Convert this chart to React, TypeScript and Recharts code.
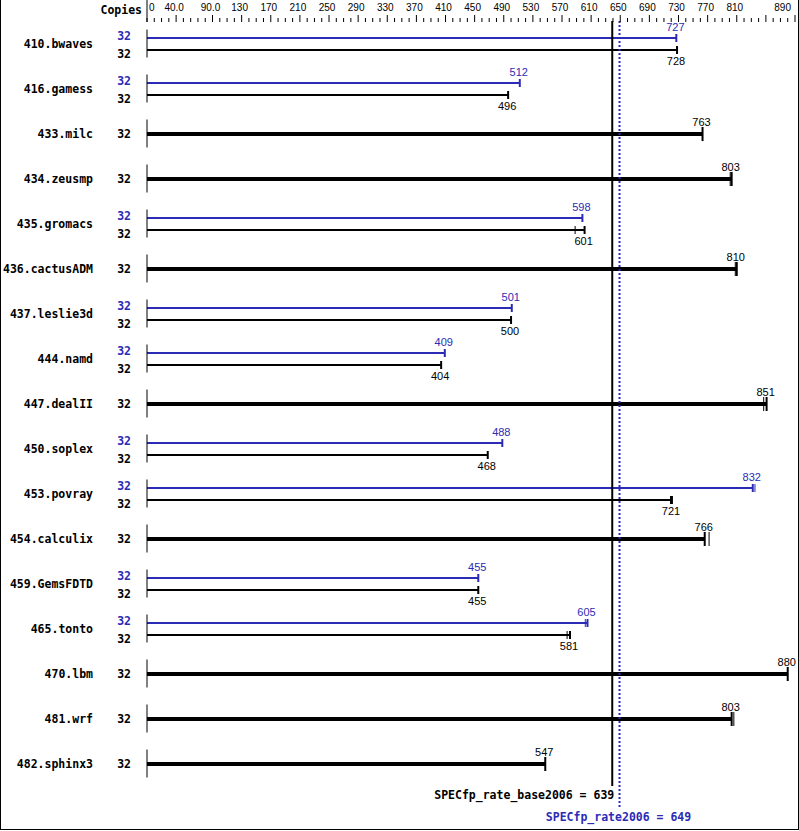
import { BarChart, Bar, XAxis, YAxis, ReferenceLine } from "recharts";

const BLUE = "#2b2bb5";
const MONO = "'DejaVu Sans Mono', monospace";
const SANS = "'Liberation Sans', Arial, sans-serif";

// benchmark rows, top to bottom
const benchmarks = [
  "410.bwaves", "416.gamess", "433.milc", "434.zeusmp", "435.gromacs", "436.cactusADM",
  "437.leslie3d", "444.namd", "447.dealII", "450.soplex", "453.povray", "454.calculix",
  "459.GemsFDTD", "465.tonto", "470.lbm", "481.wrf", "482.sphinx3",
];
const baseScores = [728, 496, 763, 803, 601, 810, 500, 404, 851, 468, 721, 766, 455, 581, 880, 803, 547];
// null = no separate peak run (base only, drawn as one thick bar)
const peakScores = [727, 512, null, null, 598, null, 501, 409, null, 488, 832, null, 455, 605, null, null, null];
// second run marks visible next to the bar ends
const baseOtherRun = [null, null, null, 801, 588, 808, null, null, 847, null, 719, 772, null, 577, null, 806, null];
const peakOtherRun = [null, null, null, null, null, null, null, null, null, null, 835, null, null, 602, null, null, null];
const baseCopies = [32, 32, 32, 32, 32, 32, 32, 32, 32, 32, 32, 32, 32, 32, 32, 32, 32];
const peakCopies = [32, 32, null, null, 32, null, 32, 32, null, 32, 32, null, 32, 32, null, null, null];

const tickLabelValues = [0, 40, 90, 130, 170, 210, 250, 290, 330, 370, 410, 450, 490, 530, 570, 610, 650, 690, 730, 770, 810, 890];
const tickLabelText = ["0", "40.0", "90.0", "130", "170", "210", "250", "290", "330", "370", "410", "450", "490", "530", "570", "610", "650", "690", "730", "770", "810", "890"];
const majorTicks = [40, 90, 130, 170, 210, 250, 290, 330, 370, 410, 450, 490, 530, 570, 610, 650, 690, 730, 770, 810, 850, 890];
const allTicks: number[] = [];
for (let v = 0; v <= 890; v += 10) allTicks.push(v);

const BASE_MEAN = 639;
const PEAK_MEAN = 649;

const data = benchmarks.map((name, i) => ({
  name,
  base: baseScores[i],
  peak: peakScores[i],
  baseAlt: baseOtherRun[i],
  peakAlt: peakOtherRun[i],
  baseCopies: baseCopies[i],
  peakCopies: peakCopies[i],
}));

function TopTick(props: any) {
  const { x, payload } = props;
  const v = payload.value;
  const li = tickLabelValues.indexOf(v);
  const major = majorTicks.includes(v);
  const last = v === 890;
  return (
    <g>
      <line x1={x} x2={x} y1={major ? 15 : 18} y2={22} stroke="#000" strokeWidth={1} />
      {li >= 0 && (
        <text
          x={v === 0 ? x + 2 : last ? x - 4 : x - 2}
          y={11}
          textAnchor={v === 0 ? "start" : last ? "end" : "middle"}
          fontFamily={SANS}
          fontSize={10}
          fill="#000"
        >
          {tickLabelText[li]}
        </text>
      )}
      {v === 0 && (
        <>
          <line x1={x} x2={x} y1={0} y2={22} stroke="#000" strokeWidth={1} />
          <text x={x - 5} y={14} textAnchor="end" fontFamily={MONO} fontWeight="bold" fontSize={11.5} fill="#000">
            Copies
          </text>
        </>
      )}
    </g>
  );
}

function RowTick(props: any) {
  const { x, y, payload } = props;
  const i = benchmarks.indexOf(payload.value);
  const single = peakScores[i] == null;
  return (
    <g>
      <line x1={x} x2={x} y1={y - 14} y2={y + 14} stroke="#000" strokeWidth={1} />
      <text x={x - 54} y={y} dy="0.35em" textAnchor="end" fontFamily={MONO} fontWeight="bold" fontSize={11.5} fill="#000">
        {payload.value}
      </text>
      {single ? (
        <text x={x - 16} y={y} dy="0.35em" textAnchor="end" fontFamily={MONO} fontWeight="bold" fontSize={11.5} fill="#000">
          {baseCopies[i]}
        </text>
      ) : (
        <>
          <text x={x - 16} y={y - 8} dy="0.35em" textAnchor="end" fontFamily={MONO} fontWeight="bold" fontSize={11.5} fill={BLUE}>
            {peakCopies[i]}
          </text>
          <text x={x - 16} y={y + 10} dy="0.35em" textAnchor="end" fontFamily={MONO} fontWeight="bold" fontSize={11.5} fill="#000">
            {baseCopies[i]}
          </text>
        </>
      )}
    </g>
  );
}

function PeakShape(props: any) {
  const { x, y, width, height, payload } = props;
  if (payload.peak == null || width == null) return <g />;
  const cy = y + height / 2;
  const xe = x + width;
  const altX = payload.peakAlt != null ? x + (width * payload.peakAlt) / payload.peak : null;
  return (
    <g>
      <line x1={x} x2={xe} y1={cy} y2={cy} stroke={BLUE} strokeWidth={2} />
      <line x1={xe} x2={xe} y1={cy - 4} y2={cy + 4} stroke={BLUE} strokeWidth={2} />
      {altX != null && <line x1={altX} x2={altX} y1={cy - 4} y2={cy + 4} stroke={BLUE} strokeWidth={1} />}
      <text x={xe - 1} y={cy - 11} dy="0.35em" textAnchor="middle" fontFamily={SANS} fontSize={11} fill={BLUE}>
        {payload.peak}
      </text>
    </g>
  );
}

function BaseShape(props: any) {
  const { x, y, width, height, payload } = props;
  if (payload.base == null || width == null) return <g />;
  const single = payload.peak == null;
  // single rows sit in the middle of the row (slot offset = (barSize + barGap) / 2)
  const cy = y + height / 2 - (single ? 6 : 0);
  const xe = x + width;
  const altX = payload.baseAlt != null ? x + (width * payload.baseAlt) / payload.base : null;
  const capH = single ? 7 : 4;
  return (
    <g>
      <line x1={x} x2={xe} y1={cy} y2={cy} stroke="#000" strokeWidth={single ? 4 : 2} />
      <line x1={xe} x2={xe} y1={cy - capH} y2={cy + capH} stroke="#000" strokeWidth={2} />
      {altX != null && <line x1={altX} x2={altX} y1={cy - capH} y2={cy + capH} stroke="#000" strokeWidth={1} />}
      <text x={xe - 1} y={single ? cy - 12 : cy + 11} dy="0.35em" textAnchor="middle" fontFamily={SANS} fontSize={11} fill="#000">
        {payload.base}
      </text>
    </g>
  );
}

function BaseMeanLine(props: any) {
  const { x1, y1, y2 } = props;
  const top = Math.min(y1, y2);
  const bottom = Math.max(y1, y2);
  return (
    <g>
      <line x1={x1} x2={x1} y1={top} y2={bottom} stroke="#000" strokeWidth={2} />
      <text x={x1 + 2} y={bottom + 9} dy="0.35em" textAnchor="end" fontFamily={MONO} fontWeight="bold" fontSize={11.5} fill="#000">
        {`SPECfp_rate_base2006 = ${BASE_MEAN}`}
      </text>
    </g>
  );
}

function PeakMeanLine(props: any) {
  const { x1, y1, y2 } = props;
  const top = Math.min(y1, y2);
  const bottom = Math.max(y1, y2);
  return (
    <g>
      <line x1={x1} x2={x1} y1={top} y2={bottom + 21} stroke={BLUE} strokeWidth={2} strokeDasharray="2 2" />
      <text x={x1 - 1} y={bottom + 31} dy="0.35em" textAnchor="middle" fontFamily={MONO} fontWeight="bold" fontSize={11.5} fill={BLUE}>
        {`SPECfp_rate2006 = ${PEAK_MEAN}`}
      </text>
    </g>
  );
}

export default function App() {
  return (
    <div style={{ position: "absolute", left: 0, top: 0, width: 799, height: 831, background: "#fff" }}>
      <div
        style={{
          position: "absolute",
          left: 0,
          top: 0,
          width: 797,
          height: 829,
          borderLeft: "1px solid #000",
          borderRight: "1px solid #000",
          borderBottom: "1px solid #000",
        }}
      />
      <BarChart
        width={799}
        height={831}
        data={data}
        layout="vertical"
        margin={{ top: 0, right: 4, bottom: 45, left: 0 }}
        barSize={6}
        barGap={6}
      >
        <XAxis
          type="number"
          orientation="top"
          domain={[0, 890]}
          ticks={allTicks}
          interval={0}
          height={21}
          axisLine={false}
          tickLine={false}
          tick={<TopTick />}
        />
        <YAxis
          type="category"
          dataKey="name"
          width={147}
          axisLine={false}
          tickLine={false}
          tickSize={0}
          tickMargin={0}
          interval={0}
          tick={<RowTick />}
        />
        <Bar dataKey="peak" isAnimationActive={false} shape={<PeakShape />} />
        <Bar dataKey="base" isAnimationActive={false} shape={<BaseShape />} />
        <ReferenceLine x={BASE_MEAN} shape={<BaseMeanLine />} ifOverflow="visible" />
        <ReferenceLine x={PEAK_MEAN} shape={<PeakMeanLine />} ifOverflow="visible" />
      </BarChart>
    </div>
  );
}
